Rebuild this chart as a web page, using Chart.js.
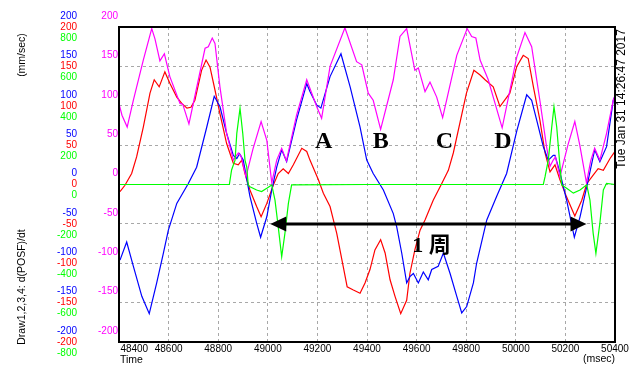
<!DOCTYPE html>
<html>
<head>
<meta charset="utf-8">
<script src="https://cdn.jsdelivr.net/npm/chart.js@4.4.1/dist/chart.umd.min.js"></script>
<style>
html,body{margin:0;padding:0;background:#fff;overflow:hidden}
#wrap{width:640px;height:365px;position:relative}
</style>
</head>
<body>
<div id="wrap"><canvas id="c"></canvas></div>
<script>
// ---- tick labels ----
const xTicks = [48400,48600,48800,49000,49200,49400,49600,49800,50000,50200,50400];
const velTicks = [-200,-150,-100,-50,0,50,100,150,200];
const accTicks = [-800,-600,-400,-200,0,200,400,600,800];

// ---- series (time in msec) ----
const magT = [48402,48412,48433,48458,48498,48532,48545,48565,48583,48605,48646,48657,48682,48747,48760,48776,48787,48807,48834,48861,48881,48892,48912,48940,48973,48996,49016,49036,49056,49075,49116,49157,49197,49217,49251,49311,49358,49379,49405,49425,49455,49506,49533,49560,49593,49607,49634,49654,49681,49705,49762,49804,49822,49839,49856,49889,49909,49945,50004,50037,50064,50097,50124,50138,50151,50160,50178,50210,50238,50258,50285,50302,50318,50339,50366,50393,50400];
const magV = [100,88,73,107,158,198,185,157,166,137,103,102,77,173,175,186,179,124,65,31,40,36,10,45,80,56,2,31,46,30,88,133,99,84,150,199,156,152,116,107,70,133,188,198,145,148,118,130,111,85,164,198,188,186,158,133,111,72,162,193,175,107,48,23,31,35,10,50,80,50,2,30,46,31,65,107,113];

const blueT = [48404,48431,48458,48492,48522,48552,48579,48599,48633,48679,48713,48754,48784,48807,48834,48861,48875,48886,48901,48928,48955,48971,48996,49016,49036,49056,49076,49116,49157,49170,49197,49214,49251,49295,49332,49372,49399,49425,49466,49506,49520,49540,49560,49573,49587,49607,49627,49647,49661,49687,49708,49735,49762,49782,49802,49829,49842,49883,49923,49963,50004,50044,50064,50084,50111,50131,50151,50158,50178,50205,50236,50259,50286,50318,50339,50366,50393,50400];
const blueV = [-96,-73,-104,-142,-164,-125,-87,-58,-24,1,22,73,112,99,65,37,33,39,31,-15,-49,-67,-41,-7,22,44,29,82,128,118,101,97,137,166,124,73,31,14,-7,-37,-54,-87,-125,-117,-113,-125,-111,-121,-108,-104,-87,-113,-142,-163,-155,-125,-100,-45,-15,14,68,114,107,82,48,31,37,37,15,-20,-67,-41,-3,44,29,48,107,112];

const redT = [48404,48424,48451,48471,48498,48525,48542,48562,48585,48606,48633,48653,48674,48690,48706,48733,48751,48767,48787,48807,48834,48861,48881,48895,48908,48928,48955,48973,48996,49022,49042,49062,49083,49103,49137,49157,49170,49204,49224,49251,49278,49304,49320,49345,49372,49392,49412,49432,49455,49473,49493,49513,49536,49560,49573,49593,49614,49634,49667,49701,49728,49748,49801,49831,49856,49876,49909,49936,49976,50004,50030,50050,50071,50097,50118,50138,50158,50178,50205,50238,50266,50286,50312,50332,50353,50380,50400];
const redV = [-9,-1,14,35,73,116,133,124,143,128,111,103,97,98,107,145,158,149,120,90,52,27,25,31,14,-7,-28,-41,-24,-1,14,20,14,25,46,42,31,6,-11,-28,-62,-104,-130,-134,-138,-125,-108,-83,-70,-87,-121,-142,-164,-147,-113,-83,-58,-45,-20,1,18,40,116,145,139,133,124,99,116,150,164,160,124,82,40,16,25,6,-16,-40,-20,1,12,20,18,33,42];

const greenT = [48400,48845,48854,48868,48875,48888,48899,48908,48915,48921,48928,48955,48975,48996,49016,49029,49042,49056,49069,49083,49096,49400,49800,50111,50118,50131,50145,50154,50165,50176,50185,50205,50232,50259,50286,50299,50312,50323,50339,50353,50366,50400];
const greenV = [0,0,74,124,260,387,260,124,90,-2,-11,-28,-36,-19,-2,-79,-214,-367,-248,-96,-2,0,0,0,40,124,292,395,292,124,-2,-19,-44,-28,-2,-79,-248,-350,-196,-28,6,0];

// ---- annotations (data coordinates) ----
const markLabels = ['A','B','C','D'];
const markT = [49225,49455,49712,49948];
const markV = [54,54,54,54];
const cycleStart = 49010, cycleEnd = 50285, cycleLevel = -50;
const cycleText = '1 周', cycleTextT = 49660, cycleTextV = -78;

const FONT = "'Liberation Sans',Arial,sans-serif";
const GRID = '#a8a8a8';

const mk = (T, V) => T.map((t, i) => ({x: t, y: V[i]}));
const setTicks = arr => s => { s.ticks = arr.map(v => ({value: v})); };

const decor = {
  id: 'decor',
  beforeDraw(chart) {
    // let the stacked label columns share the same strip
    ['yBlue', 'yRed'].forEach(id => {
      const s = chart.scales[id];
      if (s) s._computeLabelArea = () => undefined;
    });
  },
  afterDraw(chart) {
    const {ctx, chartArea: a, scales} = chart;
    const xs = scales.x, ym = scales.yMag;
    ctx.save();
    ctx.setLineDash([]);
    ctx.strokeStyle = '#000';
    ctx.lineWidth = 2;
    ctx.strokeRect(a.left, a.top, a.right - a.left, a.bottom - a.top);

    ctx.fillStyle = '#000';
    ctx.textAlign = 'center';
    ctx.textBaseline = 'middle';
    ctx.font = "bold 24px 'Liberation Serif', serif";
    markLabels.forEach((m, i) => ctx.fillText(m, xs.getPixelForValue(markT[i]), ym.getPixelForValue(markV[i])));

    const x1 = xs.getPixelForValue(cycleStart), x2 = xs.getPixelForValue(cycleEnd), yy = ym.getPixelForValue(cycleLevel);
    const hl = 16, hw = 7.5;
    ctx.lineWidth = 3;
    ctx.beginPath(); ctx.moveTo(x1 + hl - 2, yy); ctx.lineTo(x2 - hl + 2, yy); ctx.stroke();
    ctx.beginPath(); ctx.moveTo(x1, yy); ctx.lineTo(x1 + hl, yy - hw); ctx.lineTo(x1 + hl, yy + hw); ctx.closePath(); ctx.fill();
    ctx.beginPath(); ctx.moveTo(x2, yy); ctx.lineTo(x2 - hl, yy - hw); ctx.lineTo(x2 - hl, yy + hw); ctx.closePath(); ctx.fill();

    ctx.font = "bold 22px 'Liberation Serif','Noto Sans CJK JP',serif";
    ctx.fillText(cycleText, xs.getPixelForValue(cycleTextT), ym.getPixelForValue(cycleTextV));

    ctx.font = "10.5px " + FONT;
    ctx.textBaseline = 'alphabetic';
    ctx.textAlign = 'left';
    ctx.fillText('Time', a.left + 1, 363);
    ctx.textAlign = 'right';
    ctx.fillText('(msec)', a.right, 362);

    const rot = (txt, cx, cy, font) => {
      ctx.save();
      ctx.translate(cx, cy);
      ctx.rotate(-Math.PI / 2);
      ctx.font = font;
      ctx.textAlign = 'center';
      ctx.textBaseline = 'middle';
      ctx.fillText(txt, 0, 0);
      ctx.restore();
    };
    rot('(mm/sec)', 22, 55, "10.5px " + FONT);
    rot('Draw1,2,3,4: d(POSF)/dt', 22, 287, "10.5px " + FONT);
    rot('Tue Jan 31 14:26:47 2017', 622, 99, "12px " + FONT);
    ctx.restore();
  }
};

const tickFont = {family: FONT, size: 10};
const yBase = (min, max, ticks, color, offset, weight, width, grid) => ({
  position: 'left', weight, min, max,
  afterBuildTicks: setTicks(ticks),
  afterFit: s => { s.width = width; },
  ticks: {color, labelOffset: offset, padding: 1, autoSkip: false, font: tickFont},
  grid: grid ? {color: GRID, lineWidth: 1, drawTicks: false} : {display: false, drawTicks: false},
  border: {display: false, dash: [3, 3]}
});

new Chart(document.getElementById('c'), {
  type: 'line',
  data: {
    datasets: [
      {label: 'd4', data: mk(greenT, greenV), yAxisID: 'yGreen', borderColor: '#00ff00'},
      {label: 'd3', data: mk(magT, magV), yAxisID: 'yMag', borderColor: '#ff00ff'},
      {label: 'd1', data: mk(blueT, blueV), yAxisID: 'yBlue', borderColor: '#0000ff'},
      {label: 'd2', data: mk(redT, redV), yAxisID: 'yRed', borderColor: '#ff0000'}
    ]
  },
  options: {
    responsive: true,
    maintainAspectRatio: false,
    devicePixelRatio: 1,
    animation: false,
    layout: {padding: {left: 0, top: 27, right: 25, bottom: 0}},
    elements: {point: {radius: 0}, line: {borderWidth: 1.2, tension: 0, fill: false}},
    plugins: {legend: {display: false}, tooltip: {enabled: false}},
    scales: {
      x: {
        type: 'linear', min: 48400, max: 50400,
        afterBuildTicks: setTicks(xTicks),
        afterFit: s => { s.height = 23; },
        ticks: {autoSkip: false, maxRotation: 0, color: '#000', padding: 1, font: tickFont,
          callback: (v, i) => (i === 0 ? ' '.repeat(11) : '') + String(v)},
        grid: {color: GRID, lineWidth: 1, drawTicks: false},
        border: {display: false, dash: [3, 3]}
      },
      yMag: yBase(-200, 200, velTicks, '#ff00ff', -11, 0, 41, true),
      yBlue: yBase(-200, 200, velTicks, '#0000ff', -11, 1, 0, false),
      yRed: yBase(-200, 200, velTicks, '#ff0000', 0, 2, 0, false),
      yGreen: yBase(-800, 800, accTicks, '#00ff00', 11, 3, 78, false)
    }
  },
  plugins: [decor]
});
</script>
</body>
</html>
